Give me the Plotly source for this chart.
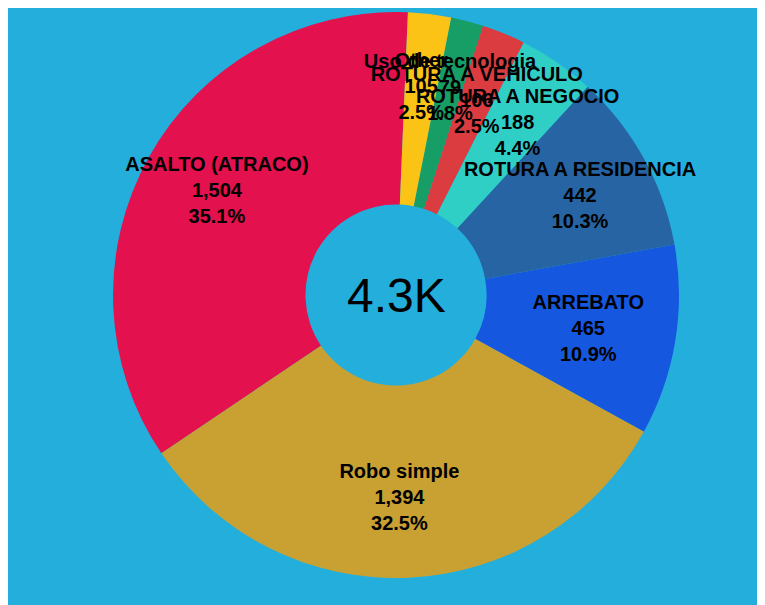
import plotly.graph_objects as go

# datos por tipo de delito
labels = ["ASALTO (ATRACO)", "Robo simple", "ARREBATO", "ROTURA A RESIDENCIA",
          "ROTURA A NEGOCIO", "ROTURA A VEHICULO", "Uso de tecnologia", "Other"]
values = [1504, 1394, 465, 442, 188, 106, 79, 105]
colors = ["#E3114E", "#C9A133", "#1657E0", "#2764A3",
          "#30CFC6", "#DB3C40", "#169E66", "#FBC316"]
center_text = "4.3K"

W, H = 765, 605
tpl = "%{label}<br>%{value:,}<br>%{percent:.1%}"
label_font = dict(family="Arial", size=20, color="black", weight="bold")
clear = ["rgba(0,0,0,0)"] * len(labels)


def dom(cx, cy, r):
    # dominio (en fraccion del papel) de un circulo centrado en cx, cy con radio r
    return dict(x=[(cx - 8 - r) / W, (cx - 8 + r) / W],
                y=[1 - (cy - 8 + r) / H, 1 - (cy - 8 - r) / H])


def text_pie(show, domain, hole):
    # capa transparente que solo dibuja las etiquetas pedidas
    return go.Pie(
        labels=labels, values=values, sort=False, direction="counterclockwise",
        rotation=-124, hole=hole, domain=domain, showlegend=False,
        marker=dict(colors=clear, line=dict(width=0)),
        texttemplate=[tpl if lab in show else "" for lab in labels],
        textposition="inside", insidetextorientation="horizontal",
        textfont=label_font, hoverinfo="skip"
    )


fig = go.Figure()

# --- donut (solo colores) ---
fig.add_trace(go.Pie(
    labels=labels, values=values, sort=False, direction="counterclockwise",
    rotation=-124, hole=0.32, domain=dom(396, 295, 283), showlegend=False,
    marker=dict(colors=colors, line=dict(width=0)),
    textinfo="none", hoverinfo="label+value+percent"
))

# --- etiquetas ---
fig.add_trace(text_pie(["ASALTO (ATRACO)"], dom(323, 249, 230), 0))
fig.add_trace(text_pie(["Robo simple"], dom(391, 310, 283), 0.32))
fig.add_trace(text_pie(["ARREBATO"], dom(379, 294, 283), 0.32))
fig.add_trace(text_pie(["ROTURA A RESIDENCIA"], dom(392, 298, 283), 0.32))
fig.add_trace(text_pie(["ROTURA A NEGOCIO"], dom(403, 288, 229), 0.32))
fig.add_trace(text_pie(labels[5:], dom(396, 297, 229), 0.32))

fig.add_annotation(text=center_text, x=(396 - 8) / W, y=1 - (295 - 8) / H,
                   xref="paper", yref="paper", showarrow=False,
                   font=dict(family="Arial", size=48, color="black"))

fig.update_layout(
    width=W, height=H,
    margin=dict(l=0, r=0, t=0, b=0),
    paper_bgcolor="#24AEDC", plot_bgcolor="rgba(0,0,0,0)",
    uniformtext=dict(minsize=20, mode="show"),
)

fig.write_html("out.html")
